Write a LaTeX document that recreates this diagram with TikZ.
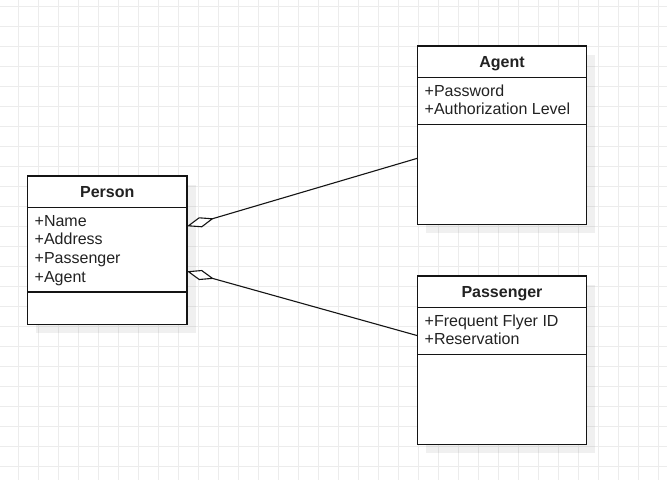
\documentclass[tikz,border=0pt]{standalone}
\usepackage{fontspec}
\setmainfont{Liberation Sans}
\usetikzlibrary{arrows.meta}
\definecolor{gridcol}{RGB}{236,236,236}
\definecolor{txtcol}{RGB}{34,34,34}
\definecolor{linecol}{RGB}{20,20,20}
\tikzset{
  gridline/.style={draw=gridcol, line width=1pt},
  classbox/.style={draw=linecol, fill=white, line width=1.2pt, rectangle, inner sep=0pt, outer sep=0pt, anchor=north west},
  shadowbox/.style={fill=black, opacity=0.06},
  classline/.style={draw=linecol, line width=1.2pt},
  attr/.style={font=\fontsize{16pt}{18.8pt}\selectfont, text=txtcol, inner sep=0pt, anchor=base west},
  ctitle/.style={font=\fontsize{16pt}{18.8pt}\selectfont\bfseries, text=txtcol, inner sep=0pt, anchor=base},
  assoc/.style={draw=linecol, line width=1.1pt, -{Diamond[length=28pt, width=10.5pt, fill=white]}},
}
\begin{document}
\begin{tikzpicture}[x=1pt, y=-1pt]
\useasboundingbox (0,0) rectangle (667,480);
\fill[white] (0,0) rectangle (667,480);
% grid
\foreach \gx in {18,38,...,658} { \draw[gridline] (\gx,0) -- (\gx,480); }
\foreach \gy in {6,26,...,466} { \draw[gridline] (0,\gy) -- (667,\gy); }
% shadows
\fill[shadowbox] (36,184.5) rectangle (195.5,333);
\fill[shadowbox] (426,54.5) rectangle (595,233);
\fill[shadowbox] (426,284.5) rectangle (595,453);
% Person
\node[classbox, minimum width=159.5pt, minimum height=148.5pt] (person) at (27.5,176) {};
\draw[classline] ([yshift=-31.3pt]person.north west) -- ([yshift=-31.3pt]person.north east);
\draw[classline] ([yshift=-116pt]person.north west) -- ([yshift=-116pt]person.north east);
\node[ctitle] (ptitle) at (107.25,197.3) {Person};
\node[attr] (pname) at (34.5,226) {+Name};
\node[attr] (paddr) at (34.5,244.9) {+Address};
\node[attr] (ppass) at (34.5,263.7) {+Passenger};
\node[attr] (pagent) at (34.5,282.5) {+Agent};
% Agent
\node[classbox, minimum width=169pt, minimum height=178.5pt] (agent) at (417.5,46) {};
\draw[classline] ([yshift=-31.3pt]agent.north west) -- ([yshift=-31.3pt]agent.north east);
\draw[classline] ([yshift=-78.7pt]agent.north west) -- ([yshift=-78.7pt]agent.north east);
\node[ctitle] (atitle) at (502,67.3) {Agent};
\node[attr] (apass) at (424.5,96) {+Password};
\node[attr] (aauth) at (424.5,114.8) {+Authorization Level};
% Passenger
\node[classbox, minimum width=169pt, minimum height=168.5pt] (passenger) at (417.5,276) {};
\draw[classline] ([yshift=-31.3pt]passenger.north west) -- ([yshift=-31.3pt]passenger.north east);
\draw[classline] ([yshift=-78.7pt]passenger.north west) -- ([yshift=-78.7pt]passenger.north east);
\node[ctitle] (ctitle) at (502,297.3) {Passenger};
\node[attr] (cfreq) at (424.5,326) {+Frequent Flyer ID};
\node[attr] (cres) at (424.5,344.8) {+Reservation};
% connectors
\coordinate (pagentend) at ([yshift=24pt]person.east);
\coordinate (ppassend) at ([yshift=-21pt]person.east);
\coordinate (agentend) at ([yshift=-23pt]agent.west);
\coordinate (passend) at ([yshift=24.6pt]passenger.west);
\draw[assoc] (agentend) -- (pagentend);
\draw[assoc] (passend) -- (ppassend);
\end{tikzpicture}
\end{document}
